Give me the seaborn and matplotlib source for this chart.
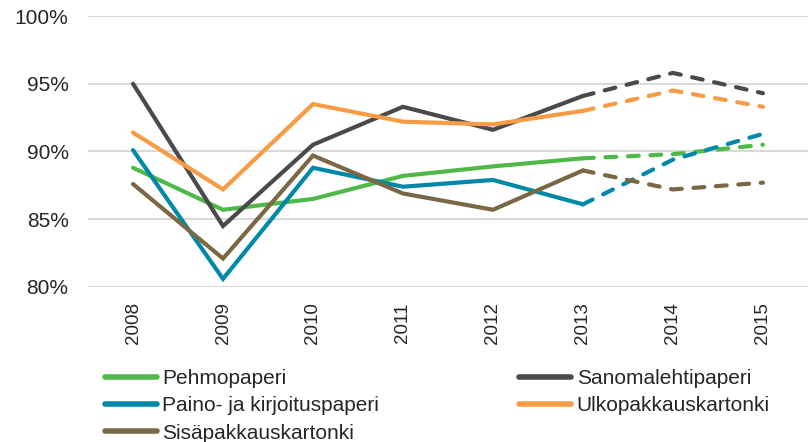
import matplotlib
matplotlib.use('Agg')
import matplotlib.pyplot as plt
import seaborn as sns
import pandas as pd

years = ['2008', '2009', '2010', '2011', '2012', '2013', '2014', '2015']
pehmopaperi = [88.8, 85.7, 86.5, 88.2, 88.9, 89.5, 89.8, 90.5]
sanomalehtipaperi = [95.0, 84.5, 90.5, 93.3, 91.6, 94.1, 95.8, 94.3]
paino_kirjoitus = [90.1, 80.6, 88.8, 87.4, 87.9, 86.1, 89.4, 91.3]
ulkopakkaus = [91.4, 87.2, 93.5, 92.2, 92.0, 93.0, 94.5, 93.3]
sisapakkaus = [87.6, 82.1, 89.7, 86.9, 85.7, 88.6, 87.2, 87.7]

series = [
    ('Pehmopaperi', pehmopaperi, '#50B848'),
    ('Sanomalehtipaperi', sanomalehtipaperi, '#4A4A4A'),
    ('Paino- ja kirjoituspaperi', paino_kirjoitus, '#0088A8'),
    ('Ulkopakkauskartonki', ulkopakkaus, '#F89B45'),
    ('Sisäpakkauskartonki', sisapakkaus, '#7A6845'),
]
forecast_from = 5  # index of 2013, lines are dashed after this

sns.set_style('white')
plt.rcParams['font.family'] = ['Liberation Sans', 'DejaVu Sans']

fig = plt.figure(figsize=(8.12, 4.42), dpi=100)
ax = fig.add_axes([0.1084, 0.3507, 0.8866, 0.6131])

handles = {}
for name, vals, color in series:
    df = pd.DataFrame({'x': range(len(years)), 'y': vals})
    solid = df.iloc[:forecast_from + 1]
    dashed = df.iloc[forecast_from:]
    sns.lineplot(data=solid, x='x', y='y', color=color, linewidth=3, ax=ax,
                 solid_capstyle='round', solid_joinstyle='miter')
    handles[name] = ax.lines[-1]
    sns.lineplot(data=dashed, x='x', y='y', color=color, linewidth=3, ax=ax,
                 dashes=False)
    dl = ax.lines[-1]
    dl.set_linestyle((0, (2.6, 2.8)))
    dl.set_dash_capstyle('round')

ax.set_xlim(-0.5, len(years) - 0.5)
ax.set_ylim(80, 100)
ax.set_yticks([80, 85, 90, 95, 100])
ax.set_yticklabels(['80%', '85%', '90%', '95%', '100%'], fontsize=15)
ax.set_xticks(range(len(years)))
ax.set_xticklabels(years, rotation=90, fontsize=13.5)
ax.tick_params(axis='y', length=0, pad=14)
ax.tick_params(axis='x', length=0, pad=11)
ax.set_xlabel('')
ax.set_ylabel('')
ax.yaxis.grid(True, color='#D9D9D9', linewidth=1.5)
ax.set_axisbelow(True)
sns.despine(ax=ax, left=True, bottom=True)

order = ['Pehmopaperi', 'Paino- ja kirjoituspaperi', 'Sisäpakkauskartonki',
         'Sanomalehtipaperi', 'Ulkopakkauskartonki']
leg = fig.legend([handles[n] for n in order], order, ncol=2, frameon=False,
                 loc='upper left', bbox_to_anchor=(0.129, 0.165), fontsize=15,
                 handlelength=2.5, handletextpad=0.27, columnspacing=6.7,
                 labelspacing=0.4, borderaxespad=0, borderpad=0)
for l in leg.get_lines():
    l.set_linewidth(4)
    l.set_solid_capstyle('round')

fig.savefig('out.png', dpi=100)
